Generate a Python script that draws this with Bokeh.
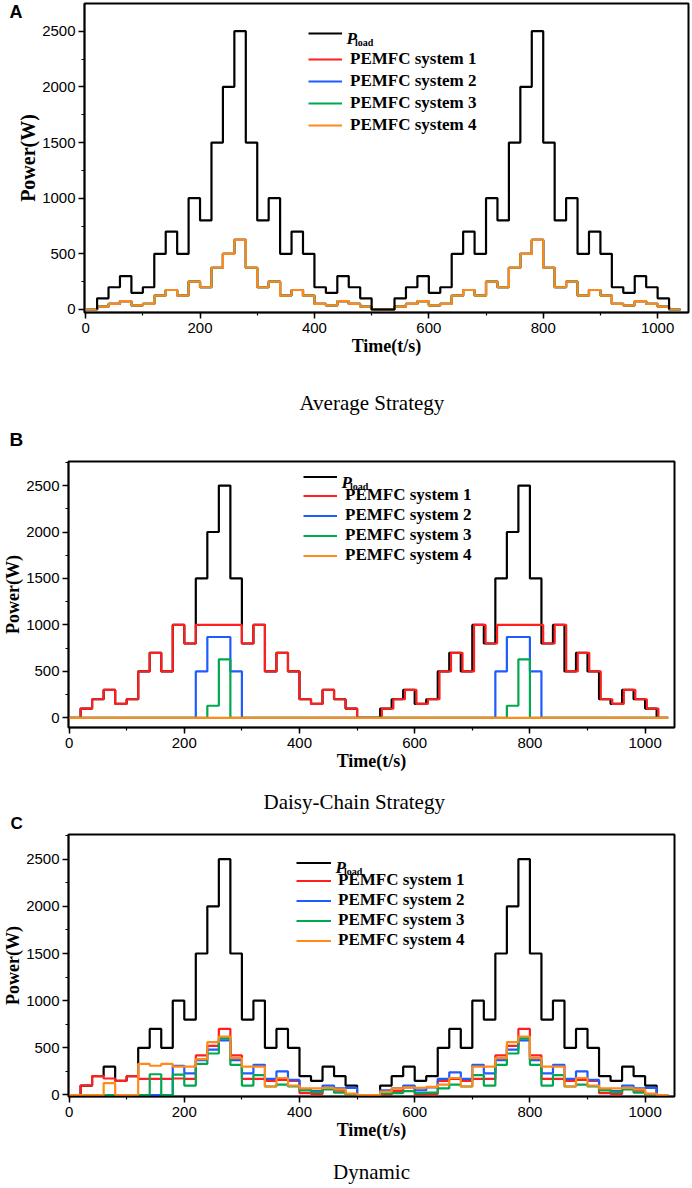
from bokeh.plotting import figure
from bokeh.models import (Range1d, SingleIntervalTicker, Legend, LegendItem, Label, Title,
                          LinearAxis, FixedTicker)
from bokeh.embed import file_html
from bokeh.resources import INLINE

# ---------------- data ----------------
step = 20  # s, duration of one load step
t_end = 1040
# one load cycle (24 steps of 20 s, from t=20 s to t=500 s)
load_cycle = [100, 200, 300, 150, 200, 500, 700, 500, 1000, 800, 1500, 2000,
              2500, 1500, 800, 1000, 500, 700, 500, 200, 150, 300, 200, 100]

# (A) Average strategy: every PEMFC system delivers the same power
avg_cycle = [25, 50, 75, 37.5, 50, 125, 175, 125, 250, 200, 375, 500,
             625, 375, 200, 250, 125, 175, 125, 50, 37.5, 75, 50, 25]

# (B) Daisy-chain strategy
dc1_cycle = [100, 200, 300, 150, 200, 500, 700, 500, 1000, 800, 1000, 1000,
             1000, 1000, 800, 1000, 500, 700, 500, 200, 150, 300, 200, 100]
dc2_cycle = [0, 0, 0, 0, 0, 0, 0, 0, 0, 0, 500, 870,
             870, 500, 0, 0, 0, 0, 0, 0, 0, 0, 0, 0]
dc3_cycle = [0, 0, 0, 0, 0, 0, 0, 0, 0, 0, 0, 130,
             630, 0, 0, 0, 0, 0, 0, 0, 0, 0, 0, 0]
dc4_cycle = [0, 0, 0, 0, 0, 0, 0, 0, 0, 0, 0, 0,
             0, 0, 0, 0, 0, 0, 0, 0, 0, 0, 0, 0]
dc1_lag_c2 = 3  # s, system 1 visibly lags the load during the second cycle

# (C) Dynamic strategy, first cycle
dy1_c1 = [100, 200, 175, 150, 200, 170, 170, 170, 175, 170, 420, 520,
          700, 420, 170, 170, 150, 160, 150, 20, 10, 65, 45, 5]
dy2_c1 = [0, 0, 0, 0, 0, 0, 0, 0, 310, 230, 370, 480,
          580, 370, 230, 320, 170, 250, 160, 60, 40, 100, 70, 75]
dy3_c1 = [0, 0, 0, 0, 0, 0, 220, 0, 215, 100, 330, 440,
          600, 320, 100, 210, 90, 110, 90, 50, 30, 60, 25, 5]
dy4_c1 = [0, 0, 125, 0, 0, 330, 310, 330, 300, 300, 380, 560,
          620, 390, 300, 300, 90, 180, 100, 70, 70, 75, 60, 15]
# (C) Dynamic strategy, second cycle
dy1_c2 = [0, 40, 80, 5, 10, 150, 170, 150, 170, 170, 420, 520,
          700, 420, 170, 170, 150, 160, 150, 20, 10, 65, 45, 5]
dy2_c2 = [50, 70, 100, 50, 80, 170, 240, 170, 320, 230, 370, 480,
          580, 370, 230, 320, 170, 250, 160, 60, 40, 100, 70, 75]
dy3_c2 = [15, 20, 40, 20, 25, 70, 110, 90, 210, 100, 320, 440,
          600, 320, 100, 210, 90, 110, 90, 50, 30, 60, 25, 5]
dy4_c2 = [35, 70, 80, 75, 85, 110, 180, 90, 300, 300, 390, 560,
          620, 390, 300, 300, 90, 180, 100, 70, 70, 75, 60, 15]

series_names = ["PEMFC system 1", "PEMFC system 2", "PEMFC system 3", "PEMFC system 4"]
colors = ["#ff1f1f", "#1f5cff", "#00a84f", "#ff8a1a"]
captions = ["Average Strategy", "Daisy-Chain Strategy", "Dynamic"]
letters = ["A", "B", "C"]

t = list(range(0, t_end + 1, step))  # 0, 20, ..., 1040


def full(c1, c2):
    # 0-20 s idle, cycle 1, 500-540 s idle, cycle 2, 1020-1040 s idle (+ end point)
    return [0] + list(c1) + [0, 0] + list(c2) + [0, 0]


load = full(load_cycle, load_cycle)
load_t = [t[1]] + t[1:52]
load_y = [0] + load[1:52]
t_b1 = t[:27] + [x + dc1_lag_c2 for x in t[27:52]] + [t[52]]

SERIF = "Liberation Serif"
SANS = "Liberation Sans"
W = 690


def make_panel(idx, sys_series, g, load_first):
    p = figure(width=W, height=g["h"], x_range=Range1d(*g["xr"]), y_range=Range1d(*g["yr"]),
               output_backend="svg", toolbar_location=None,
               min_border_left=g["ml"], min_border_right=g["mr"],
               min_border_top=g["mt"], min_border_bottom=g["mb"])
    p.xgrid.visible = False
    p.ygrid.visible = False
    p.outline_line_color = "black"
    p.outline_line_width = 2
    p.outline_line_alpha = 1
    p.background_fill_color = "white"
    p.border_fill_color = "white"

    p.xaxis.ticker = SingleIntervalTicker(interval=200, num_minor_ticks=2)
    p.yaxis.ticker = SingleIntervalTicker(interval=500, num_minor_ticks=2)
    for ax in (p.xaxis, p.yaxis):
        ax.axis_line_color = "black"
        ax.axis_line_width = 1.5
        ax.major_tick_line_color = "black"
        ax.major_tick_line_width = 1.5
        ax.minor_tick_line_color = "black"
        ax.minor_tick_line_width = 1.2
        ax.major_tick_in = 0
        ax.major_tick_out = 6
        ax.minor_tick_in = 0
        ax.minor_tick_out = 3
        ax.major_label_text_font = SANS
        ax.major_label_text_font_size = "15px"
        ax.major_label_text_color = "black"
        ax.axis_label_text_font = SERIF
        ax.axis_label_text_font_style = "bold"
        ax.axis_label_text_color = "black"
        ax.axis_label_standoff = 0
    p.xaxis.major_label_standoff = 4
    p.yaxis.major_label_standoff = 3
    p.xaxis.axis_label = "Time(t/s)"
    p.yaxis.axis_label = "Power(W)"
    p.xaxis.axis_label_text_font_size = "18px"
    p.yaxis.axis_label_text_font_size = g["ylab"]

    r_load = None
    if load_first:
        r_load = p.step(load_t, load_y, mode="after", line_color="black", line_width=2.2)
    rs = []
    for (xs, vals), col in zip(sys_series, colors):
        rs.append(p.step(xs, vals, mode="after", line_color=col, line_width=2.2))
    if not load_first:
        r_load = p.step(load_t, load_y, mode="after", line_color="black", line_width=2.2)

    common = dict(border_line_color=None, background_fill_alpha=0, padding=0, margin=0,
                  glyph_width=g["gw"], label_standoff=g["ls"],
                  label_text_font=SERIF, label_text_font_style="bold",
                  label_text_font_size="17px", label_text_color="black")
    leg_load = Legend(items=[LegendItem(label=" ", renderers=[r_load])],
                      location=(g["lx"], g["ly_load"]), spacing=0,
                      glyph_height=g["gh"], label_height=g["gh"], **common)
    leg_sys = Legend(items=[LegendItem(label=n, renderers=[r]) for n, r in zip(series_names, rs)],
                     location=(g["lx"], g["ly_sys"]), spacing=g["sp"],
                     glyph_height=g["gh"], label_height=g["gh"], **common)
    p.add_layout(leg_load)
    p.add_layout(leg_sys)

    p.add_layout(Label(x=g["px"], y=g["py"], x_units="screen", y_units="screen", text="P",
                       text_font=SERIF, text_font_style="bold italic", text_font_size="17px",
                       text_color="black", text_baseline="alphabetic"))
    p.add_layout(Label(x=g["px"] + 8.5, y=g["py"] - 4, x_units="screen", y_units="screen", text="load",
                       text_font=SERIF, text_font_style="bold", text_font_size="10px",
                       text_color="black", text_baseline="alphabetic"))
    return p


def letter_title(text, size, offset, standoff, valign):
    return Title(text=text, align="left", offset=offset, standoff=standoff, vertical_align=valign,
                 text_font=SANS, text_font_style="bold", text_font_size=size, text_color="black")


def caption_title(text, offset):
    return Title(text=text, align="left", offset=offset, standoff=0, vertical_align="bottom",
                 text_font=SERIF, text_font_style="normal", text_font_size="21px",
                 text_color="black")


geomA = dict(h=388, xr=(-2, 1054), yr=(-27, 2749), ml=84, mr=2, mt=3, mb=76, ylab="20px",
             gw=34, ls=8, gh=20, sp=2, lx=224, ly_load=269, ly_sys=177, px=262, py=274)
geomB = dict(h=399, xr=(-1, 1051), yr=(-104, 2759), ml=67, mr=16, mt=73, mb=60, ylab="18px",
             gw=34, ls=8, gh=19, sp=0, lx=235, ly_load=241, ly_sys=162, px=273, py=245)
geomC = dict(h=399, xr=(-1, 1051), yr=(-16, 2762), ml=67, mr=16, mt=46, mb=87, ylab="18px",
             gw=35, ls=7, gh=19, sp=0, lx=228, ly_load=224, ly_sys=146, px=267, py=229)

avg = full(avg_cycle, avg_cycle)
pA = make_panel(0, [(t, avg)] * 4, geomA, load_first=False)
pB = make_panel(1, [(t_b1, full(dc1_cycle, dc1_cycle)), (t, full(dc2_cycle, dc2_cycle)),
                    (t, full(dc3_cycle, dc3_cycle)), (t, full(dc4_cycle, dc4_cycle))],
                geomB, load_first=True)
pC = make_panel(2, [(t, full(dy1_c1, dy1_c2)), (t, full(dy2_c1, dy2_c2)),
                    (t, full(dy3_c1, dy3_c2)), (t, full(dy4_c1, dy4_c2))], geomC, load_first=True)

# letter A: label of an extra, tick-less axis at the left of panel A
pA.extra_y_ranges = {"letter": Range1d(0, 1000)}
letter_pos = 982
pA.add_layout(LinearAxis(y_range_name="letter", ticker=FixedTicker(ticks=[letter_pos]),
                         major_label_overrides={letter_pos: letters[0]},
                         axis_line_color=None, major_tick_line_color=None,
                         minor_tick_line_color=None, major_tick_in=0, major_tick_out=0,
                         minor_tick_in=0, minor_tick_out=0, major_label_standoff=-8,
                         major_label_text_font=SANS, major_label_text_font_style="bold",
                         major_label_text_font_size="18px", major_label_text_color="black"), "left")

# panel B top: letter B (closest to the frame) and the caption of panel A above it
pB.add_layout(letter_title(letters[1], "19px", -59, 24, "bottom"), "above")
pB.add_layout(caption_title(captions[0], 231), "above")

# panel C top: letter C and the caption of panel B above it
pC.add_layout(letter_title(letters[2], "17px", -58, 0, "top"), "above")
pC.add_layout(caption_title(captions[1], 195), "above")

# panel C bottom: caption as label of an extra, tick-less axis
pC.add_layout(LinearAxis(ticker=FixedTicker(ticks=[]), axis_label=captions[2],
                         axis_line_color=None, major_tick_line_color=None,
                         minor_tick_line_color=None, major_tick_in=0, major_tick_out=0,
                         minor_tick_in=0, minor_tick_out=0, major_label_standoff=0,
                         axis_label_standoff=17, axis_label_text_font=SERIF,
                         axis_label_text_font_style="normal", axis_label_text_font_size="21px",
                         axis_label_text_color="black"), "below")

open("out.html", "w").write(file_html([pA, pB, pC], INLINE))
